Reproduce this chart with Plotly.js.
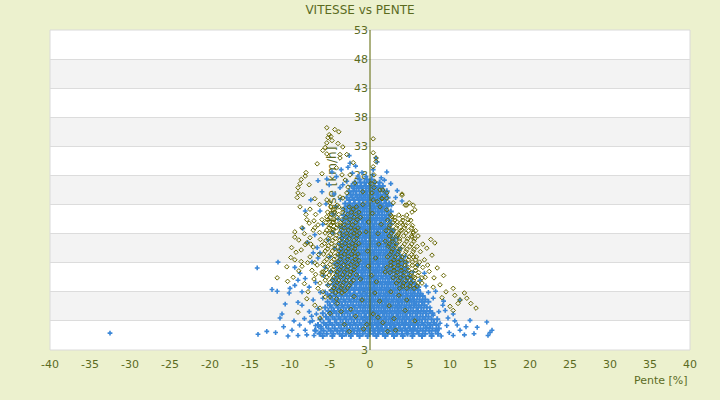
<!DOCTYPE html>
<html>
<head>
<meta charset="utf-8">
<script src="https://cdn.plot.ly/plotly-3.0.1.min.js"></script>
<style>
html,body{margin:0;padding:0;background:#ecf1ce;}
#chart{width:720px;height:400px;}
</style>
</head>
<body>
<div id="chart"></div>
<script>
// Series 1 (blue), dense core: each row = [Vitesse, Pente, Pente, ...]
const BLUE_CORE_ROWS = [
[27.3,-1.3,-0.4,0.2],
[26.8,-1.9,-1.2,-0.7,-0.1,0.6,1.2],
[26.2,-2.3,-1.6,-1.1,-0.5,0.1,0.5,1.1,1.6],
[25.8,-2.0,-1.4,-0.9,-0.2,0.3,0.9,1.4],
[25.3,-2.6,-2.1,-1.7,-1.0,-0.5,0,0.6,1.0,1.7,2.1],
[24.7,-2.4,-1.8,-1.3,-0.8,-0.3,0.3,0.8,1.3,1.9],
[24.2,-2.9,-2.2,-1.6,-1.1,-0.6,-0.1,0.4,1.0,1.5,2.2],
[23.8,-2.6,-2.0,-1.4,-0.9,-0.3,0.2,0.7,1.2,1.8],
[23.2,-3.1,-2.5,-1.9,-1.3,-0.8,-0.2,0.3,0.9,1.4,2.0,2.4],
[22.7,-2.8,-2.2,-1.7,-1.1,-0.6,0,0.5,1.1,1.6,2.2],
[22.3,-3.2,-2.5,-2.0,-1.5,-0.9,-0.4,0.2,0.7,1.3,1.8],
[21.8,-2.9,-2.3,-1.8,-1.2,-0.7,-0.1,0.4,1.0,1.5,2.1,2.6],
[21.2,-3.3,-2.6,-2.1,-1.5,-1.0,-0.4,0.1,0.7,1.2,1.8,2.3],
[20.7,-3.0,-2.4,-1.8,-1.3,-0.7,-0.2,0.4,0.9,1.5,2.0],
[20.3,-3.4,-2.7,-2.2,-1.6,-1.0,-0.5,0.1,0.6,1.2,1.7,2.4],
[19.7,-3.1,-2.5,-1.9,-1.4,-0.8,-0.3,0.3,0.8,1.4,1.9,2.6],
[19.2,-3.5,-2.8,-2.2,-1.7,-1.1,-0.6,0,0.5,1.1,1.6,2.2],
[18.8,-3.2,-2.6,-2.0,-1.4,-0.9,-0.3,0.2,0.8,1.3,1.9,2.5],
[18.2,-3.6,-2.9,-2.3,-1.8,-1.2,-0.6,-0.1,0.5,1.0,1.6,2.1,2.8],
[17.7,-3.3,-2.7,-2.1,-1.5,-0.9,-0.4,0.2,0.7,1.3,1.8,2.4],
[17.3,-3.6,-3.0,-2.4,-1.8,-1.3,-0.7,-0.1,0.4,1.0,1.5,2.1,2.7,3.1],
[16.7,-3.4,-2.8,-2.2,-1.6,-1.0,-0.5,0.1,0.6,1.2,1.8,2.3,2.9],
[16.2,-3.8,-3.1,-2.5,-1.9,-1.3,-0.8,-0.2,0.3,0.9,1.4,2.0,2.6,3.2],
[15.8,-3.5,-2.9,-2.3,-1.7,-1.1,-0.5,0,0.6,1.1,1.7,2.3,2.8],
[15.2,-3.8,-3.2,-2.6,-2.0,-1.4,-0.8,-0.3,0.3,0.8,1.4,2.0,2.5,3.1,3.6],
[14.7,-3.5,-2.9,-2.3,-1.7,-1.1,-0.6,0,0.5,1.1,1.7,2.2,2.8,3.3],
[14.3,-3.9,-3.3,-2.7,-2.1,-1.5,-0.9,-0.3,0.2,0.8,1.3,1.9,2.5,3.0,3.7],
[13.7,-3.6,-3.0,-2.4,-1.8,-1.2,-0.6,-0.1,0.5,1.0,1.6,2.2,2.7,3.3,3.9],
[13.2,-4.0,-3.4,-2.8,-2.1,-1.5,-0.9,-0.4,0.2,0.8,1.3,1.9,2.4,3.0,3.6,4.2],
[12.8,-3.7,-3.1,-2.5,-1.9,-1.3,-0.7,-0.1,0.4,1.0,1.6,2.1,2.7,3.3,3.8],
[12.2,-4.1,-3.5,-2.9,-2.2,-1.6,-1.0,-0.5,0.1,0.7,1.2,1.8,2.4,2.9,3.5,4.1,4.5],
[11.7,-3.8,-3.2,-2.6,-2.0,-1.4,-0.8,-0.2,0.4,0.9,1.5,2.1,2.6,3.2,3.8,4.3],
[11.3,-4.2,-3.6,-3.0,-2.3,-1.7,-1.1,-0.6,0,0.6,1.1,1.7,2.3,2.8,3.4,4.0,4.7],
[10.7,-3.9,-3.3,-2.7,-2.1,-1.5,-0.9,-0.3,0.3,0.8,1.4,2.0,2.5,3.1,3.7,4.2,4.9],
[10.3,-4.4,-3.7,-3.1,-2.4,-1.8,-1.2,-0.7,-0.1,0.5,1.0,1.6,2.2,2.7,3.3,3.9,4.5,5.1],
[9.7,-4.1,-3.4,-2.8,-2.2,-1.6,-1.0,-0.4,0.2,0.7,1.3,1.9,2.4,3.0,3.6,4.1,4.7,5.3],
[9.3,-4.6,-3.9,-3.2,-2.5,-1.9,-1.3,-0.8,-0.2,0.4,0.9,1.5,2.1,2.6,3.2,3.8,4.3,4.9,5.6],
[8.7,-4.3,-3.6,-3.0,-2.3,-1.7,-1.1,-0.5,0.1,0.6,1.2,1.8,2.3,2.9,3.5,4.0,4.6,5.2,5.8],
[8.3,-4.8,-4.1,-3.4,-2.7,-2.0,-1.4,-0.9,-0.3,0.3,0.8,1.4,2.0,2.5,3.1,3.7,4.2,4.8,5.4,6.0],
[7.7,-4.5,-3.8,-3.1,-2.5,-1.9,-1.2,-0.6,0,0.5,1.1,1.7,2.2,2.8,3.4,3.9,4.5,5.1,5.6,6.3],
[7.3,-5.0,-4.3,-3.6,-2.9,-2.2,-1.6,-1.0,-0.4,0.2,0.7,1.3,1.9,2.4,3.0,3.6,4.1,4.7,5.3,5.9,6.6],
[6.7,-4.7,-4.0,-3.3,-2.6,-2.0,-1.3,-0.7,-0.1,0.4,1.0,1.6,2.1,2.7,3.3,3.8,4.4,5.0,5.5,6.2,6.9],
[6.3,-5.3,-4.5,-3.8,-3.1,-2.4,-1.7,-1.1,-0.5,0.1,0.6,1.2,1.8,2.3,2.9,3.5,4.0,4.6,5.2,5.8,6.5,7.3],
[5.7,-5.0,-4.2,-3.5,-2.8,-2.1,-1.4,-0.8,-0.2,0.3,0.9,1.5,2.0,2.6,3.2,3.7,4.3,4.9,5.5,6.1,6.8],
[5.3,-5.6,-4.8,-4.0,-3.3,-2.6,-1.9,-1.2,-0.6,0,0.5,1.1,1.7,2.2,2.8,3.4,3.9,4.5,5.1,5.8,6.4,7.1],
[4.7,-5.2,-4.5,-3.7,-3.0,-2.3,-1.6,-0.9,-0.3,0.2,0.8,1.4,1.9,2.5,3.1,3.6,4.2,4.8,5.4,6.0,6.7,7.5],
[4.3,-5.9,-5.0,-4.2,-3.5,-2.8,-2.1,-1.4,-0.7,-0.1,0.4,1.0,1.6,2.1,2.7,3.3,3.8,4.4,5.0,5.7,6.3,7.0,7.8],
[3.7,-5.5,-4.7,-3.9,-3.2,-2.5,-1.8,-1.1,-0.5,0.1,0.7,1.2,1.8,2.4,2.9,3.5,4.1,4.6,5.3,5.9,6.6,7.3],
[3.3,-6.2,-5.2,-4.4,-3.7,-3.0,-2.3,-1.6,-0.9,-0.3,0.3,0.9,1.4,2.0,2.6,3.1,3.7,4.3,4.9,5.5,6.2,6.9,7.7,8.4],
[2.7,-5.8,-5.0,-4.2,-3.4,-2.7,-2.0,-1.3,-0.6,0,0.6,1.1,1.7,2.3,2.8,3.4,4.0,4.5,5.1,5.8,6.5,7.2,8.0],
[2.3,-6.5,-5.5,-4.7,-3.9,-3.2,-2.5,-1.8,-1.1,-0.4,0.2,0.8,1.3,1.9,2.5,3.0,3.6,4.2,4.8,5.4,6.0,6.7,7.5,8.3],
[1.7,-6.1,-5.2,-4.4,-3.6,-2.9,-2.2,-1.5,-0.8,-0.2,0.4,1.0,1.5,2.1,2.7,3.2,3.8,4.4,5.0,5.6,6.3,7.0,7.8,8.6],
[1.3,-6.8,-5.8,-4.9,-4.1,-3.4,-2.7,-2.0,-1.3,-0.6,0,0.6,1.2,1.7,2.3,2.9,3.4,4.0,4.6,5.2,5.9,6.6,7.4,8.2],
[0.8,-6.3,-5.4,-4.6,-3.8,-3.0,-2.3,-1.6,-0.9,-0.2,0.4,1.0,1.6,2.2,2.8,3.4,4.0,4.7,5.4,6.1,6.9,7.7,8.5],
[0.4,-5.9,-4.7,-3.5,-2.4,-1.3,-0.3,0.8,1.9,3.0,4.1,5.3,6.5,7.7]
];

// Series 1 (blue), scattered points: [Pente, Vitesse]
const BLUE_SPARSE = [
[-2.6,31.4],[0.9,30.3],[0.75,31.0],[2.1,28.6],[-2.5,30.1],[-2.75,29.4],[-4.75,28.6],[-5.4,27.4],[-6.5,27.1],[-7.4,23.8],
[-6.25,21.9],[-3.75,25.9],[-3.4,26.4],[-1.5,27.9],[-0.5,27.8],[0.3,28.1],[-1.0,28.5],[-1.8,29.6],[0.4,29.0],[-3.6,29.0],
[1.4,27.6],[-4.2,27.8],[-2.2,28.4],[-5.1,26.4],[2.6,26.6],[-6.0,25.2],[3.4,25.4],[-4.5,24.8],[-8.1,21.9],[-5.5,23.1],
[4.0,23.6],[3.2,24.2],[-4.2,22.6],[-3.7,23.9],[-4.0,20.5],[-4.6,21.4],[-3.8,19.1],[-2.9,27.0],[1.8,27.2],[2.7,22.9],
[-32.5,0.9],[-14.1,12.1],[-11.5,13.1],[-12.25,8.4],[-11.6,8.1],[-10.0,8.6],[-10.1,7.8],[-9.4,9.1],[-8.5,8.0],[-10.6,5.9],
[-9.0,6.2],[-8.5,5.7],[-11.0,4.2],[-11.25,3.5],[-14.0,0.7],[-12.9,1.2],[-10.25,0.4],[-9.75,1.4],[-9.0,0.5],[-8.1,1.4],
[-7.5,2.8],[-6.9,1.4],[-6.25,0.9],[-9.4,12.2],[-8.75,11.2],[-9.0,10.0],[-8.1,10.3],[-7.25,13.1],[-6.5,13.8],[-6.25,14.7],
[-7.1,14.7],[-5.6,12.2],[-7.8,16.5],[-6.9,17.8],[-8.4,18.9],[-5.9,19.6],[-6.6,15.6],[-5.2,16.9],[-4.6,18.1],[-5.0,14.0],
[-4.4,15.5],[-5.8,10.8],[-6.8,9.6],[-7.6,8.8],[-6.2,7.9],[-7.1,6.6],[-6.5,5.1],[-7.6,4.6],[-8.2,3.4],[-7.3,3.8],
[-6.8,2.2],[-8.8,2.3],[-9.5,3.0],[-10.8,2.0],[-7.9,0.6],[-7.0,0.5],[-11.8,1.0],[-5.3,9.2],[-5.6,8.0],[-4.9,11.6],
[-5.9,6.9],[-6.7,4.2],[-7.2,3.0],[-6.1,2.0],[-5.3,7.6],[-4.7,10.1],[-4.4,12.8],
[14.6,2.8],[15.0,1.0],[14.75,0.5],[15.25,1.4],[13.4,1.9],[12.5,3.1],[11.25,1.4],[10.9,2.3],[10.4,0.5],[9.75,3.5],
[8.75,2.6],[8.4,1.4],[7.9,4.0],[9.4,4.8],[7.5,5.3],[7.1,1.9],[6.5,0.5],[5.4,1.4],[5.9,3.1],[4.6,0.9],
[6.25,7.4],[6.6,6.2],[5.6,6.0],[7.9,6.9],[9.1,5.7],[5.4,11.4],[6.25,10.0],[4.6,13.0],[11.25,6.6],[10.4,4.2],
[12.0,2.0],[9.9,1.0],[11.8,0.6],[13.0,0.8],[9.2,6.4],[8.2,8.1],[7.0,9.0],[6.8,11.2],[6.0,12.6],[3.8,15.5],
[3.4,17.2],[2.9,18.6],[4.4,14.1],[5.1,9.6],[8.9,0.4],[9.6,2.2],[10.6,3.0],[8.6,4.6],[7.3,7.9],[6.1,8.8]
];

// Series 2 (olive), scattered points: [Pente, Vitesse]
const OLIVE_POINTS = [
[-5.4,36.2],[-4.4,35.9],[-3.9,35.5],[-5.1,35.0],[-4.9,34.7],[-5.25,34.5],[-4.75,34.0],[-5.4,33.6],[-5.6,32.8],[-5.9,32.3],
[-4.0,33.5],[-3.75,31.6],[-2.9,31.6],[-3.4,32.9],[-5.4,31.7],[-6.0,28.3],[-8.0,28.5],[-8.1,27.9],[-8.6,27.3],[-8.75,26.6],
[-9.0,25.9],[-9.1,24.2],[-8.4,24.7],[-8.75,22.6],[0.4,34.3],[0.4,31.9],[0.75,31.0],[0.75,30.4],[0.4,29.5],[0.5,28.1],
[0.6,26.9],[1.25,25.5],[2.1,25.0],[2.1,24.1],[4.0,24.8],[4.9,23.3],[5.4,22.9],[4.4,22.9],[2.9,23.3],[1.5,24.0],
[0.9,23.5],[0.5,25.9],[0.25,25.0],[-0.9,25.2],[-2.1,30.2],[-3.75,31.0],[-7.6,26.4],[-5.4,23.8],[-5.0,23.3],[-3.75,24.3],
[-2.9,25.0],[-2.75,26.0],[-3.1,27.2],[-3.5,28.1],[-2.5,28.1],[-1.9,26.7],[-3.4,24.1],[-4.1,22.9],[-4.6,22.1],[-5.4,20.9],
[-4.6,20.0],[-3.75,19.5],[-6.0,20.4],[-6.5,19.5],[-7.1,18.6],[-7.9,20.4],[-8.5,19.0],[-7.5,17.3],[-9.4,17.4],[-9.0,25.0],
[4.0,24.6],[4.6,22.9],[5.25,21.7],[5.6,22.1],[4.75,20.4],[4.1,19.5],[3.4,20.0],[2.75,20.9],[2.1,22.1],[1.25,22.6],
[0.4,23.8],[1.5,24.1],[1.6,25.5],[4.0,18.6],[5.4,18.3],[5.25,17.4],[3.5,17.8],[-6.6,30.0],[-4.2,29.3],[-6.9,24.0],
[5.4,10.6],[6.5,9.5],[7.9,8.8],[8.75,9.2],[10.4,8.6],[10.6,7.4],[11.25,6.6],[12.1,6.9],[13.25,5.2],[11.0,6.0],
[10.4,4.8],[8.4,12.1],[7.75,14.3],[7.1,15.5],[8.1,16.4],[5.4,14.0],[5.9,12.6],[6.9,10.5],[9.5,8.0],[11.8,7.8],
[12.6,6.0],[9.0,7.0],[10.0,5.5],[8.0,10.4],[7.4,11.5],[6.8,13.5],[9.2,10.8],[7.2,12.6],[6.6,16.2],[7.6,17.0],
[-11.6,10.4],[-9.6,10.5],[-9.25,14.8],[-7.9,16.4],[-7.5,14.0],[-6.6,12.6],[-7.25,11.7],[-6.25,9.5],[-5.9,8.0],[-6.9,5.7],
[-6.25,3.5],[-9.0,4.5],[-7.75,8.0],[-5.0,7.1],[-9.4,18.3],[-8.1,16.1],[-7.1,15.7],[-6.9,13.0],[-6.0,11.4],[-6.25,5.2],
[-5.0,4.3],[-4.1,6.0],[-5.6,7.1],[-9.8,15.6],[-8.9,16.9],[-9.4,13.5],[-10.4,12.3],[-8.6,13.2],[-7.0,10.2],[-8.2,9.4],
[-10.3,9.8],[-6.5,8.6],[-7.9,6.8],[-8.5,12.4],[-6.2,17.0],[-6.8,21.3],[-7.5,22.2],[-6.3,23.0],
[-7.6,19.8],[-8.2,18.0],[-6.9,19.0],[-7.4,16.2],[-8.6,15.2],[-6.4,14.4],[-7.8,13.0],[-6.8,11.0],[-8.9,11.6],[-9.9,13.9],
[-6.0,16.0],[-6.3,18.2],[-7.0,20.2],[-8.0,21.3],
[0.3,21.5],[-0.5,18.3],[1.1,16.2],[-0.2,12.4],[0.8,9.7],[-1.0,6.6],[0.4,4.2],[1.6,2.7],[-0.8,1.6],[2.4,5.6],
[-1.8,3.8],[0.6,7.8],[1.9,11.4],[-0.3,15.0],[1.4,19.6],[-0.9,23.0],[0.7,13.8],[-1.2,10.2],[1.2,6.4],[3.0,3.4],
[-2.4,5.0],[-3.2,2.4],[2.2,1.2],[3.6,7.4],[4.4,4.8],[5.6,3.0],[-4.2,6.8],[-3.6,4.6],[0.1,26.6],[-0.2,20.0],
[1.0,18.0],[-1.4,13.4],[0.2,10.8],[2.6,8.0],[-2.0,7.2],[1.0,3.6],[-0.4,2.4],[3.2,1.4],[-2.6,1.2],[4.6,6.6]
];

// Series 2 (olive), dense clusters: each row = [Vitesse, Pente, Pente, ...]
const OLIVE_CORE_ROWS = [
[22.6,-4.9,-3.9,-2.6,-1.7],[22.2,-4.4,-3.4,-2.1],
[21.7,-5.3,-4.4,-3.4,-2.3,-1.4],[21.3,-4.8,-3.9,-2.8,-1.8],
[20.8,-5.0,-4.1,-3.0,-2.0,-1.2],[20.4,-5.3,-4.5,-3.5,-2.5,-1.6],
[19.9,-5.5,-4.6,-3.7,-2.7,-1.8],[19.5,-4.9,-4.1,-3.2,-2.2],
[19.0,-5.1,-4.2,-3.2,-2.4,-1.5],[18.6,-5.4,-4.6,-3.6,-2.7,-1.9],
[18.1,-5.6,-4.7,-3.8,-2.9,-2.0,-1.3],[17.7,-5.0,-4.2,-3.3,-2.4,-1.6],
[17.2,-5.2,-4.3,-3.5,-2.6,-1.7],[16.8,-5.5,-4.7,-3.8,-2.9,-2.0],
[16.3,-5.7,-4.8,-3.9,-3.1,-2.2,-1.4],[15.9,-5.2,-4.4,-3.5,-2.6,-1.8],
[15.4,-5.3,-4.4,-3.6,-2.7,-1.9],[15.0,-5.6,-4.7,-3.9,-3.0,-2.1],
[14.5,-5.8,-4.9,-4.0,-3.2,-2.3,-1.5],[14.1,-5.2,-4.4,-3.6,-2.7,-1.9],
[13.6,-5.4,-4.5,-3.7,-2.8,-1.8],[13.2,-5.7,-4.8,-4.0,-3.1,-2.2],
[12.7,-5.9,-5.0,-4.1,-3.3,-2.4,-1.6],[12.3,-5.3,-4.5,-3.6,-2.8,-1.9],
[11.8,-5.5,-4.6,-3.8,-2.9,-2.0],[11.4,-5.8,-4.9,-4.1,-3.2,-2.4],
[10.9,-6.0,-5.1,-4.2,-3.4,-2.5,-1.7],[10.5,-5.4,-4.5,-3.7,-2.8],
[10.0,-5.6,-4.7,-3.9,-3.0,-2.1],[9.6,-5.0,-4.1,-3.3,-2.4],
[9.1,-5.2,-4.3,-3.5,-2.6],[8.7,-4.5,-3.6,-2.8],
[8.2,-4.8,-3.9,-3.1],[7.8,-4.3,-3.5],
[21.2,2.6,3.6,4.6],[20.8,3.1,4.1],
[20.3,2.2,3.1,4.1,5.1],[19.9,2.9,3.9,4.8],
[19.4,2.5,3.4,4.4,5.3],[19.0,2.4,3.3,4.3,5.2],
[18.5,2.0,2.9,3.8,4.8,5.7],[18.1,2.7,3.6,4.5,5.4],
[17.6,2.4,3.3,4.2,5.2,6.0],[17.1,2.8,3.7,4.7,5.6],
[16.7,1.9,2.8,3.7,4.6,5.5],[16.2,2.4,3.3,4.3,5.2],
[15.8,2.3,3.2,4.1,5.0,5.9],[15.3,2.8,3.7,4.6,5.5],
[14.9,2.7,3.6,4.5,5.4,6.3],[14.4,2.5,3.4,4.3,5.2],
[14.0,2.2,3.1,4.0,4.9,5.8],[13.5,3.0,3.9,4.8,5.7],
[13.1,2.6,3.5,4.4,5.3,6.2],[12.6,2.6,3.5,4.4,5.3],
[12.2,2.1,3.0,3.9,4.8,5.7,6.6],[11.7,3.0,3.9,4.8,5.7],
[11.3,2.5,3.4,4.3,5.2,6.1],[10.8,3.3,4.2,5.1,6.0],
[10.4,2.9,3.8,4.7,5.6,6.5],[9.9,3.6,4.5,5.4],
[9.5,3.3,4.2,5.1,6.0],[9.0,4.1,5.0,5.9],
[8.6,3.7,4.6,5.5]
];

const X_TICK_VALS = [-40,-35,-30,-25,-20,-15,-10,-5,0,5,10,15,20,25,30,35,40];
const X_TICK_TEXT = ['-40','-35','-30','-25','-20','-15','-10','-5','0','5','10','15','20','25','30','35','40'];
const Y_TICK_VALS = [-2,3,8,13,18,23,28,33,38,43,48,53];
const Y_TICK_TEXT = ['3','3','8','13','18','23','28','33','38','43','48','53'];
const GRAY_BANDS = [[3,8],[13,18],[23,28],[33,38],[43,48]];

function rowsToPairs(rows){
  const out = [];
  rows.forEach(r => { for (let i = 1; i < r.length; i++) out.push([r[i], r[0]]); });
  return out;
}
const blueCore = rowsToPairs(BLUE_CORE_ROWS);
const olivePts = OLIVE_POINTS.concat(rowsToPairs(OLIVE_CORE_ROWS));

const TXT = '#5b6b1f';
const FAM = 'DejaVu Sans, Verdana, sans-serif';
const FONT = {family:FAM, size:11, color:TXT};
const BLUE = '#3a87d8';
const OLIVE = '#666600';

const shapes = GRAY_BANDS.map(b => ({
  type:'rect', xref:'paper', yref:'y', x0:0, x1:1, y0:b[0], y1:b[1],
  fillcolor:'#f3f3f3', line:{width:0}, layer:'below'
}));
shapes.push({type:'rect', xref:'paper', yref:'paper', x0:0, x1:1, y0:0, y1:1,
  fillcolor:'rgba(0,0,0,0)', line:{color:'#dadada', width:1}, layer:'below'});
shapes.push({type:'line', xref:'paper', yref:'paper', x0:0.45, x1:0.45, y0:0.25, y1:0.75,
  line:{color:'rgba(255,255,255,0)', width:1}, layer:'below',
  label:{text:'Vitesse [km/h]', textangle:-90, textposition:'middle', padding:0,
         font:{family:FAM, size:12, color:TXT}}});
shapes.push({type:'line', xref:'x', yref:'paper', x0:0, x1:0, y0:0, y1:1,
  line:{color:'#5a6400', width:1}, layer:'above'});

const traces = [
  {type:'scatter', mode:'markers', name:'S1', legendgroup:'S1',
   x:blueCore.map(p=>p[0]), y:blueCore.map(p=>p[1]),
   marker:{symbol:'cross', size:5, color:BLUE, line:{width:0}}, hoverinfo:'x+y'},
  {type:'scatter', mode:'markers', name:'S1', legendgroup:'S1',
   x:BLUE_SPARSE.map(p=>p[0]), y:BLUE_SPARSE.map(p=>p[1]),
   marker:{symbol:'cross', size:4, color:BLUE, line:{width:0}}, hoverinfo:'x+y'},
  {type:'scatter', mode:'markers', name:'S2',
   x:olivePts.map(p=>p[0]), y:olivePts.map(p=>p[1]),
   marker:{symbol:'diamond-open', size:3.5, color:OLIVE, line:{width:1, color:OLIVE}}, hoverinfo:'x+y'}
];

const layout = {
  width:720, height:400,
  margin:{l:50, r:30, t:30, b:50},
  paper_bgcolor:'#ecf1ce', plot_bgcolor:'#ffffff',
  showlegend:false,
  title:{text:'VITESSE vs PENTE', x:0.5, xref:'container', y:0.975, yanchor:'middle',
         font:{family:FAM, size:12, color:TXT}},
  xaxis:{range:[-40,40], tickmode:'array', tickvals:X_TICK_VALS, ticktext:X_TICK_TEXT,
         showgrid:false, zeroline:false, showline:false,
         ticks:'', tickfont:FONT, ticklabelstandoff:6, fixedrange:true},
  yaxis:{range:[-2,53], tickmode:'array', tickvals:Y_TICK_VALS, ticktext:Y_TICK_TEXT,
         showgrid:true, gridcolor:'#dcdcdc', gridwidth:1, zeroline:false, showline:false,
         anchor:'free', position:0.5, layer:'below traces',
         ticks:'', tickfont:FONT, ticklabelstandoff:2, fixedrange:true},
  shapes:shapes,
  annotations:[{text:'Pente [%]', xref:'paper', yref:'paper', x:1, y:-0.094,
                xanchor:'right', yanchor:'middle', showarrow:false, font:FONT}]
};

Plotly.newPlot('chart', traces, layout, {displayModeBar:false, staticPlot:true});
</script>
</body>
</html>
